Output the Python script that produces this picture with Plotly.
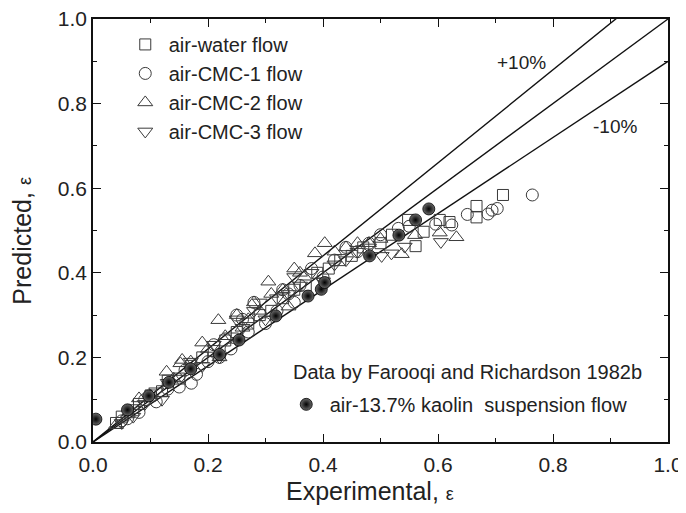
import plotly.graph_objects as go

# ---------------- data ----------------
water_x = [0.04, 0.05, 0.07, 0.08, 0.10, 0.12, 0.13, 0.15, 0.17, 0.19, 0.21, 0.23, 0.25, 0.27, 0.29,
           0.31, 0.33, 0.35, 0.37, 0.39, 0.41, 0.43, 0.45, 0.47, 0.50, 0.52, 0.548, 0.561, 0.575, 0.603,
           0.62, 0.667, 0.667, 0.713]
water_y = [0.045, 0.06, 0.075, 0.09, 0.11, 0.12, 0.145, 0.15, 0.18, 0.20, 0.215, 0.24, 0.26, 0.28, 0.30,
           0.31, 0.34, 0.36, 0.37, 0.40, 0.41, 0.43, 0.44, 0.46, 0.47, 0.49, 0.525, 0.463, 0.497, 0.525,
           0.52, 0.558, 0.531, 0.584]

cmc1_x = [0.05, 0.06, 0.08, 0.09, 0.11, 0.13, 0.15, 0.16, 0.18, 0.20, 0.21, 0.22, 0.24, 0.26, 0.27,
          0.28, 0.30, 0.32, 0.34, 0.35, 0.36, 0.38, 0.40, 0.42, 0.44, 0.46, 0.48, 0.50, 0.531, 0.55,
          0.596, 0.624, 0.651, 0.687, 0.694, 0.703, 0.764, 0.171, 0.25, 0.33]
cmc1_y = [0.05, 0.055, 0.07, 0.10, 0.095, 0.125, 0.13, 0.17, 0.16, 0.19, 0.23, 0.20, 0.22, 0.29, 0.26,
          0.33, 0.28, 0.31, 0.35, 0.33, 0.37, 0.41, 0.39, 0.43, 0.46, 0.45, 0.47, 0.49, 0.505, 0.51,
          0.515, 0.513, 0.538, 0.539, 0.548, 0.552, 0.584, 0.139, 0.30, 0.36]

cmc2_x = [0.04, 0.06, 0.08, 0.10, 0.128, 0.14, 0.152, 0.155, 0.17, 0.19, 0.20, 0.218, 0.23, 0.25, 0.27,
          0.28, 0.305, 0.31, 0.33, 0.35, 0.36, 0.386, 0.403, 0.42, 0.44, 0.46, 0.48, 0.50, 0.537, 0.56,
          0.603, 0.632, 0.29, 0.34, 0.22, 0.26]
cmc2_y = [0.04, 0.065, 0.103, 0.11, 0.166, 0.15, 0.186, 0.194, 0.19, 0.235, 0.22, 0.288, 0.25, 0.30, 0.29,
          0.33, 0.379, 0.35, 0.36, 0.41, 0.40, 0.446, 0.47, 0.45, 0.46, 0.47, 0.47, 0.48, 0.444, 0.489,
          0.495, 0.484, 0.31, 0.32, 0.20, 0.27]

cmc3_x = [0.05, 0.07, 0.09, 0.11, 0.13, 0.15, 0.17, 0.19, 0.21, 0.22, 0.24, 0.26, 0.28, 0.30, 0.32,
          0.34, 0.36, 0.38, 0.40, 0.42, 0.44, 0.46, 0.48, 0.502, 0.519, 0.542, 0.605, 0.25, 0.29, 0.35, 0.12]
cmc3_y = [0.045, 0.06, 0.09, 0.12, 0.14, 0.15, 0.19, 0.18, 0.23, 0.20, 0.25, 0.27, 0.31, 0.29, 0.34,
          0.35, 0.37, 0.40, 0.38, 0.42, 0.43, 0.45, 0.46, 0.44, 0.446, 0.462, 0.473, 0.29, 0.33, 0.39, 0.10]

kaolin_x = [0.005, 0.06, 0.097, 0.132, 0.17, 0.22, 0.254, 0.318, 0.374, 0.397, 0.403, 0.481, 0.532, 0.561, 0.584]
kaolin_y = [0.054, 0.076, 0.109, 0.141, 0.173, 0.207, 0.241, 0.298, 0.345, 0.361, 0.377, 0.44, 0.489, 0.525, 0.551]

ref_x = [0.0, 1.0]
ratios = [1.1, 1.0, 0.9]
band_labels = ["+10%", "-10%"]
band_label_pos = [(0.746, 0.896), (0.908, 0.745)]

x_ticks = [0.0, 0.2, 0.4, 0.6, 0.8, 1.0]
y_ticks = [0.0, 0.2, 0.4, 0.6, 0.8, 1.0]

FONT = "Liberation Sans, Arial, sans-serif"
INK = "#222222"
MARK = "#3a3a3a"
EPS = "<span style='font-size:18px'>ε</span>"

fig = go.Figure()

for r in ratios:
    fig.add_trace(go.Scatter(x=ref_x, y=[r * v for v in ref_x], mode="lines",
                             line=dict(color="#111111", width=1.4), showlegend=False,
                             hoverinfo="skip", cliponaxis=True))


def open_marker(sym, size):
    return dict(symbol=sym, size=size, color=MARK, line=dict(color=MARK, width=1))


fig.add_trace(go.Scatter(x=water_x, y=water_y, mode="markers", name="air-water flow",
                         marker=open_marker("square-open", 11)))
fig.add_trace(go.Scatter(x=cmc1_x, y=cmc1_y, mode="markers", name="air-CMC-1 flow",
                         marker=open_marker("circle-open", 12)))
fig.add_trace(go.Scatter(x=cmc2_x, y=cmc2_y, mode="markers", name="air-CMC-2 flow",
                         marker=open_marker("triangle-up-open", 13)))
fig.add_trace(go.Scatter(x=cmc3_x, y=cmc3_y, mode="markers", name="air-CMC-3 flow",
                         marker=open_marker("triangle-down-open", 13)))
fig.add_trace(go.Scatter(x=kaolin_x, y=kaolin_y, mode="markers",
                         name="air-13.7% kaolin  suspension flow", legend="legend2",
                         marker=dict(symbol="circle", size=12, color="#6a6a6a",
                                     gradient=dict(type="radial", color="#000000"),
                                     line=dict(color="#000000", width=0.8))))

for txt, (ax, ay) in zip(band_labels, band_label_pos):
    fig.add_annotation(x=ax, y=ay, text=txt, showarrow=False,
                       font=dict(family=FONT, size=19, color=INK))

fig.add_annotation(xref="paper", yref="paper", x=0.345, y=0.165, xanchor="left", yanchor="middle",
                   text="Data by Farooqi and Richardson 1982b", showarrow=False,
                   font=dict(family=FONT, size=20, color=INK))

# axis titles
fig.add_annotation(xref="paper", yref="paper", x=0.482, y=-0.116, xanchor="center", yanchor="middle",
                   text="Experimental, " + EPS, showarrow=False,
                   font=dict(family=FONT, size=25, color=INK))
fig.add_annotation(xref="paper", yref="paper", x=-0.1235, y=0.476, xanchor="center", yanchor="middle",
                   text="Predicted, " + EPS, showarrow=False, textangle=-90,
                   font=dict(family=FONT, size=25, color=INK))

axis_common = dict(range=[0, 1], showline=True, linecolor="#111111", linewidth=1.5, mirror="allticks",
                   ticks="inside", ticklen=8, tickwidth=1.3, tickcolor="#111111",
                   showgrid=False, zeroline=False, automargin=False, ticklabeloverflow="allow",
                   minor=dict(dtick=0.1, ticks="inside", ticklen=4, tickwidth=1.2, tickcolor="#111111"),
                   tickfont=dict(family=FONT, size=21, color=INK))

fig.update_xaxes(**axis_common, tickvals=x_ticks, ticktext=[f"{v:.1f}" for v in x_ticks],
                 ticklabelstandoff=3)
fig.update_yaxes(**axis_common, tickvals=y_ticks, ticktext=[f"{v:.1f}" for v in y_ticks])

# page has an 8px body margin: figure is sized/margined so the plot area lands at
# x 93..668, y 19..442 in the 686x513 window
fig.update_layout(
    width=678, height=497,
    margin=dict(l=85, r=18, t=11, b=63, autoexpand=False),
    paper_bgcolor="white", plot_bgcolor="white",
    showlegend=True,
    legend=dict(x=0.05, y=0.986, xanchor="left", yanchor="top", bgcolor="rgba(0,0,0,0)",
                font=dict(family=FONT, size=20, color=INK), tracegroupgap=0, itemsizing="trace",
                itemwidth=37),
    legend2=dict(x=0.33, y=0.089, xanchor="left", yanchor="middle", bgcolor="rgba(0,0,0,0)",
                 font=dict(family=FONT, size=20, color=INK), itemwidth=37),
)

fig.write_html("out.html")
